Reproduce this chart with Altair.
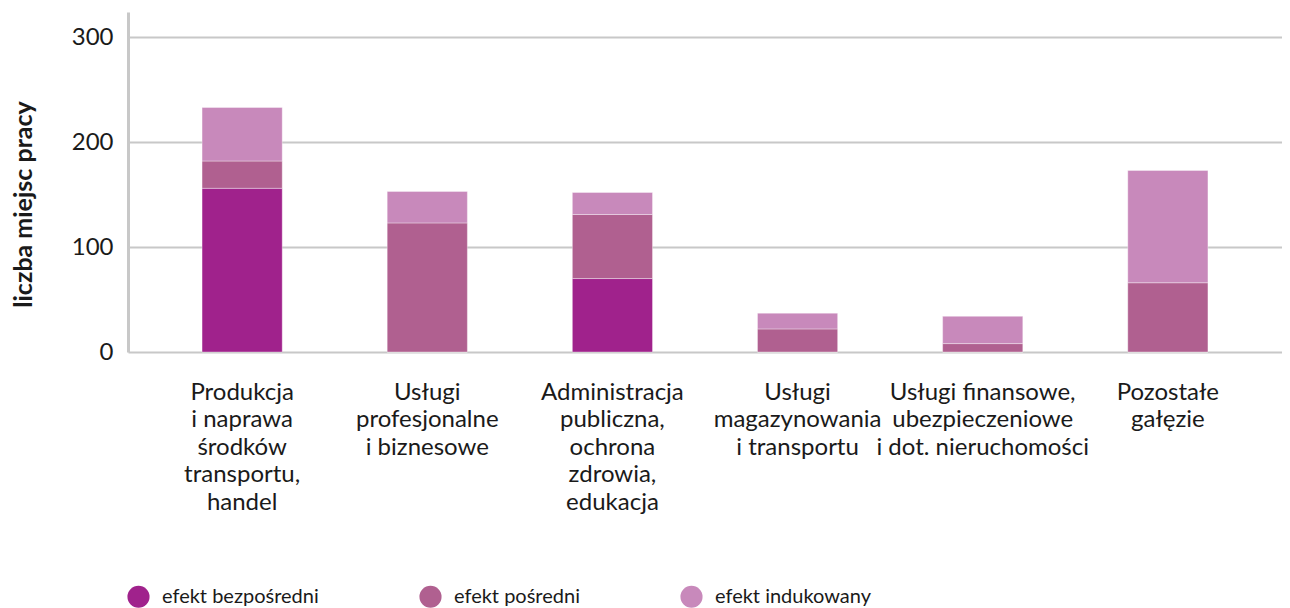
import altair as alt
import pandas as pd

categories = [
    "Produkcja|i naprawa|środków|transportu,|handel",
    "Usługi|profesjonalne|i biznesowe",
    "Administracja|publiczna,|ochrona|zdrowia,|edukacja",
    "Usługi|magazynowania|i transportu",
    "Usługi finansowe,|ubezpieczeniowe|i dot. nieruchomości",
    "Pozostałe|gałęzie",
]
series = ["efekt bezpośredni", "efekt pośredni", "efekt indukowany"]
direct = [156, 0, 70, 0, 0, 0]
indirect = [26, 123, 61, 22, 8, 66]
induced = [51, 30, 21, 15, 26, 107]
colors = ["#A0228C", "#B06090", "#C889BB"]

rows = []
for i, c in enumerate(categories):
    for k, (s, vals) in enumerate(zip(series, [direct, indirect, induced])):
        rows.append({"cat": c, "series": s, "value": vals[i], "ord": k})
df = pd.DataFrame(rows)

FONT = "Lato"

chart = (
    alt.Chart(df)
    .mark_bar(stroke="#ffffff", strokeWidth=0.8, strokeOpacity=0.45)
    .encode(
        x=alt.X(
            "cat:N",
            sort=categories,
            title=None,
            scale=alt.Scale(paddingInner=0.567, paddingOuter=0.40),
            axis=alt.Axis(
                labelAngle=0,
                labelExpr="split(datum.label, '|')",
                labelFontSize=24,
                labelLineHeight=27.5,
                labelColor="#1a1a1a",
                labelFont=FONT,
                labelPadding=28,
                labelBaseline="top",
                labelLimit=300,
                domain=False,
                ticks=False,
            ),
        ),
        y=alt.Y(
            "value:Q",
            stack="zero",
            title="liczba miejsc pracy",
            scale=alt.Scale(domain=[0, 324], nice=False),
            axis=alt.Axis(
                values=[0, 100, 200, 300],
                labelFontSize=24,
                labelColor="#1a1a1a",
                labelFont=FONT,
                labelPadding=15,
                ticks=False,
                domainColor="#c8c8c8",
                domainWidth=3,
                gridColor="#c8c8c8",
                gridWidth=2,
                titleFont=FONT,
                titleFontSize=25,
                titleFontWeight="bold",
                titleColor="#1a1a1a",
                titlePadding=35,
                titleY=192,
            ),
        ),
        color=alt.Color(
            "series:N",
            sort=series,
            scale=alt.Scale(domain=series, range=colors),
            legend=alt.Legend(
                title=None,
                orient="none",
                direction="horizontal",
                legendX=-1,
                legendY=573,
                symbolType="circle",
                symbolSize=490,
                symbolStrokeWidth=0,
                symbolOpacity=1,
                labelFontSize=20,
                labelFont=FONT,
                labelColor="#1a1a1a",
                labelOffset=12,
                columnPadding=100,
            ),
        ),
        order=alt.Order("ord:Q", sort="ascending"),
    )
    .properties(width=1154, height=340, padding={"left": 3, "top": 4, "right": 0, "bottom": 0})
    .configure_view(stroke=None)
)

chart.save("out.html", embed_options={"renderer": "svg", "actions": False})
